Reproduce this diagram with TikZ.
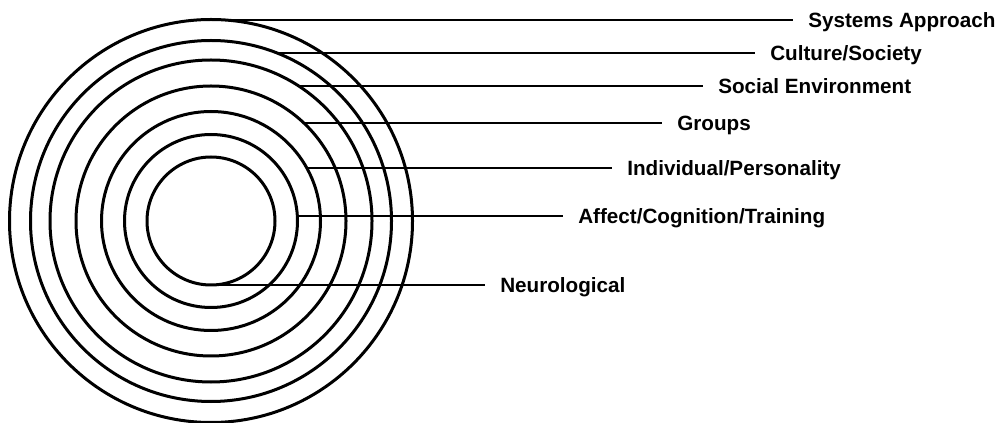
\documentclass[tikz,border=0pt]{standalone}
\usepackage{fontspec}
\setmainfont{Liberation Sans}
\begin{document}
\begin{tikzpicture}[x=0.75pt,y=-0.75pt,
  ring/.style={draw=black,line width=2.25pt},
  leader/.style={draw=black,line width=1.5pt},
  lbl/.style={anchor=west,inner xsep=11.25pt,inner ysep=0pt,text height=11.1pt,text depth=0pt,font=\fontsize{15.5pt}{18pt}\selectfont\bfseries}]
\useasboundingbox (0,0) rectangle (1005,423);
\coordinate (c) at (211,221);
\foreach \r in {64,86.5,109.5,135,161,180.5,201.5}
  \draw[ring] (c) circle[radius=\r];
% start points on the circles
\coordinate (s1) at (211,20);
\coordinate (s2) at (276,52.7);
\coordinate (s3) at (298,85.7);
\coordinate (s4) at (304,123.5);
\coordinate (s5) at (307,168);
\coordinate (s6) at (297,216.5);
\coordinate (s7) at (211,285);
% labels
\node[lbl] (t1) at (793,20) {Systems Approach};
\node[lbl] (t2) at (755,52.7) {Culture/Society};
\node[lbl] (t3) at (703,85.7) {Social Environment};
\node[lbl] (t4) at (662,123.5) {Groups};
\node[lbl] (t5) at (612,168) {Individual/Personality};
\node[lbl] (t6) at (563,216.5) {Affect/Cognition/Training};
\node[lbl] (t7) at (485,285) {Neurological};
\foreach \i in {1,...,7}
  \draw[leader] (s\i) -- (t\i.west);
\end{tikzpicture}
\end{document}
